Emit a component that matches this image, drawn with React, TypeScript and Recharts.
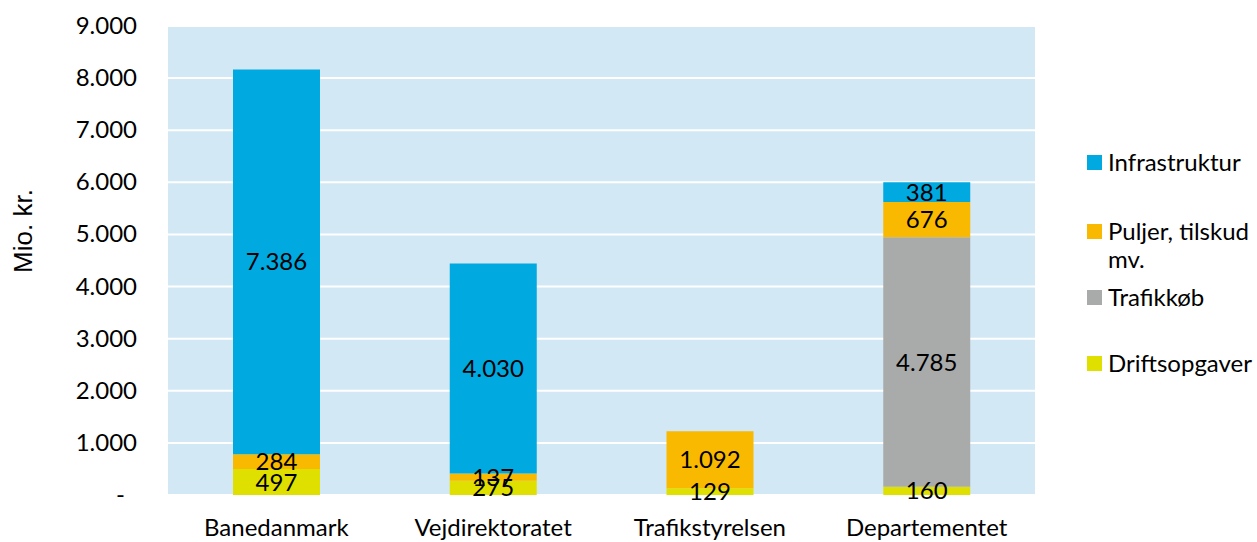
import React from 'react'
import { Bar, BarChart, CartesianGrid, LabelList, XAxis, YAxis } from 'recharts'

const categories = ['Banedanmark', 'Vejdirektoratet', 'Trafikstyrelsen', 'Departementet']
const driftsopgaver = [497, 275, 129, 160]
const trafikkoeb = [null, null, null, 4785]
const puljer = [284, 137, 1092, 676]
const infrastruktur = [7386, 4030, null, 381]
const yTicks = [0, 1000, 2000, 3000, 4000, 5000, 6000, 7000, 8000, 9000]

const legendItems = [
  { label: ['Infrastruktur'], color: '#00a9e0', top: 148 },
  { label: ['Puljer, tilskud', 'mv.'], color: '#f9b900', top: 217 },
  { label: ['Trafikkøb'], color: '#a9abab', top: 283 },
  { label: ['Driftsopgaver'], color: '#dfe000', top: 349 },
]

const data = categories.map((name, i) => ({
  name,
  drift: driftsopgaver[i],
  trafik: trafikkoeb[i],
  puljer: puljer[i],
  infra: infrastruktur[i],
}))

const FONT = 'Lato, "Open Sans", sans-serif'
const FS = 24

function fmt(v: number | null | undefined): string {
  if (v == null) return ''
  if (v === 0) return '-'
  return String(Math.round(v)).replace(/\B(?=(\d{3})+(?!\d))/g, '.')
}

function YTick(props: any) {
  const { y, payload } = props
  const zero = payload.value === 0
  return (
    <text
      x={zero ? 125 : 137}
      y={y}
      dy={8}
      textAnchor="end"
      fill="#000"
      fontSize={FS}
      fontFamily={FONT}
    >
      {fmt(payload.value)}
    </text>
  )
}

const labelProps = {
  position: 'center' as const,
  fill: '#000',
  fontSize: FS,
  fontFamily: FONT,
  formatter: (v: any) => fmt(v),
}

export default function App() {
  return (
    <div style={{ position: 'absolute', left: 0, top: 0, width: 1257, height: 542, background: '#fff' }}>
      <BarChart
        width={1257}
        height={542}
        data={data}
        margin={{ top: 26, right: 222, bottom: 0, left: 0 }}
        barSize={87}
      >
        <CartesianGrid stroke="#ffffff" strokeWidth={2} vertical={false} fill="#d3e8f5" fillOpacity={1} />
        <XAxis
          dataKey="name"
          height={47}
          axisLine={false}
          tickLine={false}
          tick={{ fill: '#000', fontSize: FS, fontFamily: FONT }}
          dy={16}
        />
        <YAxis
          width={168}
          domain={[0, 9000]}
          ticks={yTicks}
          interval={0}
          axisLine={false}
          tickLine={false}
          tick={<YTick />}
        />
        <Bar dataKey="drift" stackId="a" fill="#dfe000" isAnimationActive={false}>
          <LabelList dataKey="drift" {...labelProps} />
        </Bar>
        <Bar dataKey="trafik" stackId="a" fill="#a9abab" isAnimationActive={false}>
          <LabelList dataKey="trafik" {...labelProps} />
        </Bar>
        <Bar dataKey="puljer" stackId="a" fill="#f9b900" isAnimationActive={false}>
          <LabelList dataKey="puljer" {...labelProps} />
        </Bar>
        <Bar dataKey="infra" stackId="a" fill="#00a9e0" isAnimationActive={false}>
          <LabelList dataKey="infra" {...labelProps} />
        </Bar>
      </BarChart>
      <div
        style={{
          position: 'absolute',
          left: 23,
          top: 231,
          transform: 'translate(-50%, -50%) rotate(-90deg)',
          fontFamily: '"Liberation Sans", Arial, sans-serif',
          fontSize: 26,
          lineHeight: '30px',
          whiteSpace: 'nowrap',
          color: '#000',
        }}
      >
        Mio. kr.
      </div>
      {legendItems.map((item) => (
        <div
          key={item.label[0]}
          style={{ position: 'absolute', left: 1087, top: item.top, fontFamily: FONT, fontSize: FS, color: '#000', lineHeight: '28px' }}
        >
          <span
            style={{ position: 'absolute', left: 0, top: 7, width: 15, height: 15, background: item.color }}
          />
          {item.label.map((l) => (
            <div key={l} style={{ paddingLeft: 21, whiteSpace: 'nowrap' }}>
              {l}
            </div>
          ))}
        </div>
      ))}
    </div>
  )
}
